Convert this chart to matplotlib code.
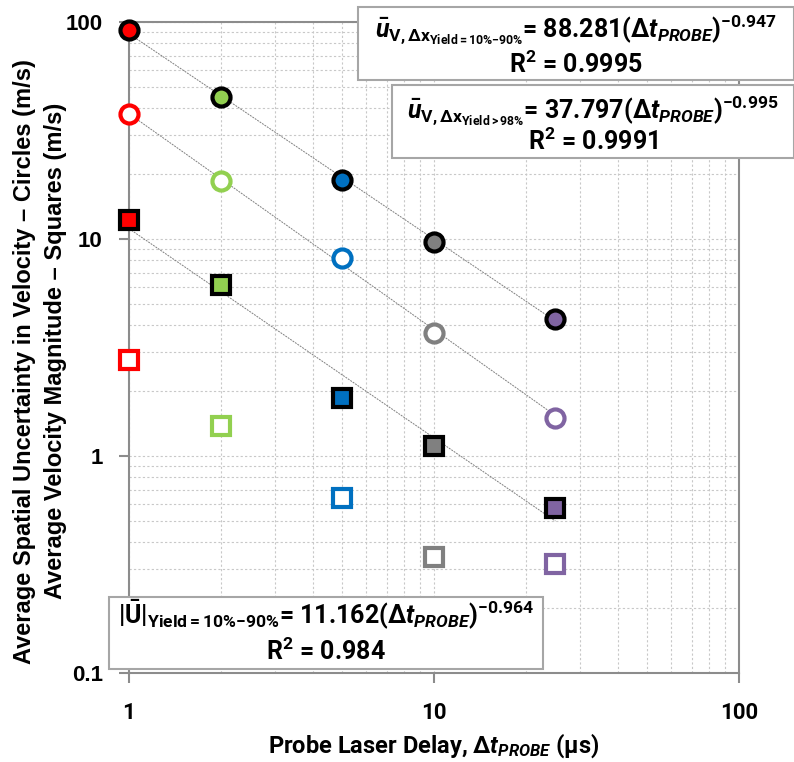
import matplotlib.pyplot as plt
import matplotlib.patches as mpatches
import numpy as np

plt.rcParams['font.family'] = ['Roboto', 'DejaVu Sans']
plt.rcParams['font.weight'] = 'bold'
plt.rcParams['mathtext.fontset'] = 'custom'
plt.rcParams['mathtext.rm'] = 'Roboto:bold'
plt.rcParams['mathtext.it'] = 'Roboto:italic:bold'
plt.rcParams['mathtext.bf'] = 'Roboto:bold'

# data
delay = [1, 2, 5, 10, 25]
colors = ['#FF0000', '#92D050', '#0070C0', '#808080', '#8064A2']
unc_10_90 = [91.8, 45.3, 18.8, 9.66, 4.26]     # filled circles
unc_98 = [37.6, 18.5, 8.15, 3.70, 1.50]        # open circles
vel_10_90 = [12.2, 6.14, 1.85, 1.11, 0.574]    # filled squares
vel_98 = [2.77, 1.37, 0.638, 0.344, 0.317]     # open squares

# power-law trendlines (coef, exponent)
fit_unc_10_90 = (88.281, -0.947)
fit_unc_98 = (37.797, -0.995)
fit_vel_10_90 = (11.162, -0.964)

fig = plt.figure(figsize=(7.94, 7.62), dpi=100)
ax = fig.add_axes([0.1625, 0.1168, 0.7682, 0.8543])
ax.set_xscale('log')
ax.set_yscale('log')
ax.set_xlim(1, 100)
ax.set_ylim(0.1, 100)

ax.grid(True, which='both', color='#c8c8c8', ls=(0, (2, 2)), lw=0.8)
ax.set_axisbelow(True)
for s in ax.spines.values():
    s.set_color('#8c8c8c')
    s.set_linewidth(1.5)

xx = np.array([1, 25])
for c, e in [fit_unc_10_90, fit_unc_98, fit_vel_10_90]:
    ax.plot(xx, c * xx ** e, color='#808080', ls=(0, (2, 1)), lw=0.7, zorder=2)

for i in range(len(delay)):
    ax.plot(delay[i], unc_10_90[i], 'o', ms=13, mfc=colors[i], mec='black', mew=3,
            zorder=3, clip_on=False)
    ax.plot(delay[i], unc_98[i], 'o', ms=13, mfc='white', mec=colors[i], mew=3,
            zorder=3, clip_on=False)
    ax.plot(delay[i], vel_10_90[i], 's', ms=13, mfc=colors[i], mec='black', mew=3,
            zorder=3, clip_on=False)
    ax.plot(delay[i], vel_98[i], 's', ms=13, mfc='white', mec=colors[i], mew=3,
            zorder=3, clip_on=False)

ax.set_xticks([1, 10, 100])
ax.set_xticklabels(['1', '10', '100'])
ax.set_yticks([0.1, 1, 10, 100])
ax.set_yticklabels(['0.1', '1', '10', '100'])
ax.tick_params(which='minor', length=0)
ax.tick_params(which='major', length=7, width=1.5, color='#8c8c8c')
ax.tick_params(axis='x', labelsize=16, pad=14)
ax.tick_params(axis='y', labelsize=16, pad=12)
for lab in ax.get_xticklabels():
    lab.set_fontweight('bold')
for lab in ax.get_yticklabels():
    lab.set_fontweight('bold')
    lab.set_family('Liberation Sans')

ax.set_xlabel('Probe Laser Delay, $\\mathit{\\Delta t}_{\\mathit{PROBE}}$ (\u00b5s)',
              fontsize=17, fontweight='bold', labelpad=5)
fig.text(0.031, 0.525, 'Average Spatial Uncertainty in Velocity \u2013 Circles (m/s)',
         rotation=90, ha='center', va='center', fontsize=17, fontweight='bold',
         family='Liberation Sans')
fig.text(0.07, 0.54, 'Average Velocity Magnitude \u2013 Squares (m/s)',
         rotation=90, ha='center', va='center', fontsize=17, fontweight='bold',
         family='Liberation Sans')

W, H = 794.0, 762.0


def box(x0, y0, x1, y1):
    r = mpatches.Rectangle((x0 / W, 1 - y1 / H), (x1 - x0) / W, (y1 - y0) / H,
                           transform=fig.transFigure, fc='white', ec='#a6a6a6',
                           lw=1.5, zorder=5)
    fig.patches.append(r)


def txt(x, y, s, size=18):
    fig.text(x / W, 1 - y / H, s, ha='center', va='baseline', fontsize=size,
             fontweight='bold', zorder=6)


box(358, 7, 794, 80)
txt(576, 37, r'$\bar{\mathit{u}}_{\mathrm{V,\Delta x}_{\mathrm{Yield{=}10\%{-}90\%}}}$'
    r'= 88.281($\mathit{\Delta t}_{\mathit{PROBE}}$)$^{-0.947}$')
txt(576, 73, r'R$^2$ = 0.9995')

box(392, 85, 794, 158)
txt(593, 118, r'$\bar{\mathit{u}}_{\mathrm{V,\Delta x}_{\mathrm{Yield{>}98\%}}}$'
    r'= 37.797($\mathit{\Delta t}_{\mathit{PROBE}}$)$^{-0.995}$')
txt(593, 150, r'R$^2$ = 0.9991')

box(109, 597, 543, 669)
txt(326, 623, r'|$\bar{\mathrm{U}}$|$_{\mathrm{Yield{=}10\%{-}90\%}}$'
    r'= 11.162($\mathit{\Delta t}_{\mathit{PROBE}}$)$^{-0.964}$')
txt(326, 660, r'R$^2$ = 0.984')

plt.savefig('out.png', dpi=100)
